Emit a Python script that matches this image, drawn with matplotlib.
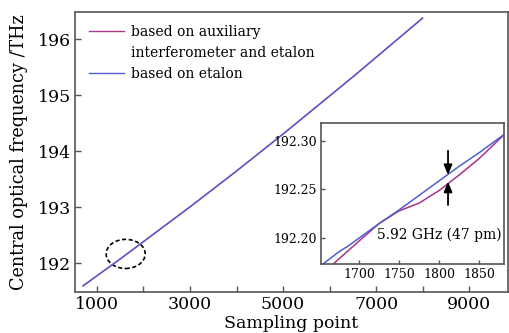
import matplotlib
matplotlib.use("Agg")
import matplotlib.pyplot as plt
from matplotlib.lines import Line2D
from matplotlib.patches import Ellipse
from matplotlib.ticker import MultipleLocator

# --- data ---
main_samples = [700, 1000, 1500, 2000, 2500, 3000, 3500, 4000,
                4500, 5000, 5500, 6000, 6500, 7000, 7500, 8000]
main_freq = [191.60, 191.78, 192.08, 192.39, 192.70, 193.01, 193.33, 193.65,
             193.98, 194.31, 194.65, 194.99, 195.33, 195.68, 196.03, 196.38]

# zoomed region
aux_samples = [1666, 1685, 1700, 1725, 1750, 1775, 1800, 1825, 1850, 1883]
aux_freq = [192.172, 192.186, 192.197, 192.215, 192.228, 192.236, 192.249, 192.265, 192.282, 192.308]
etalon_samples = [1653, 1675, 1685, 1700, 1725, 1750, 1775, 1800, 1825, 1850, 1883]
etalon_freq = [192.172, 192.186, 192.191, 192.200, 192.215, 192.229, 192.244, 192.259, 192.274, 192.288, 192.308]

x_ticks = [1000, 3000, 5000, 7000, 9000]
y_ticks = [192, 193, 194, 195, 196]
inset_x_ticks = [1700, 1750, 1800, 1850]
inset_y_ticks = [192.20, 192.25, 192.30]

gap_at = 1811
gap_top = 192.265
gap_bot = 192.258

C_AUX = "#a8338a"
C_ETA = "#4f5fd0"
SPINE = "#555555"

plt.rcParams['font.family'] = ['DejaVu Serif']
plt.rcParams['mathtext.fontset'] = 'dejavuserif'

fig = plt.figure(figsize=(5.09, 3.33), dpi=100)
ax = fig.add_axes([0.1473, 0.1231, 0.851, 0.841])

ax.plot(main_samples, main_freq, color=C_AUX, lw=1.0)
ax.plot(main_samples, main_freq, color=C_ETA, lw=1.0)

ax.add_patch(Ellipse((1617, 192.17), 839, 0.52, fill=False, ec='k', ls=(0, (2.5, 1.5)), lw=1.2))

ax.set_xlim(527, 9839)
ax.set_ylim(191.49, 196.49)
ax.set_xticks(x_ticks)
ax.xaxis.set_minor_locator(MultipleLocator(1000))
ax.set_yticks(y_ticks)
ax.tick_params(axis='both', which='both', direction='in', length=4, width=1, color=SPINE,
               labelsize=12.5, pad=3)
for s in ax.spines.values():
    s.set_color(SPINE)
    s.set_linewidth(1.2)

ax.set_xlabel("Sampling point", fontsize=12.5, labelpad=1)
ax.set_ylabel("Central optical frequency /THz", fontsize=12.7, labelpad=7)

handles = [Line2D([], [], color=C_AUX, lw=1.0),
           Line2D([], [], color='none'),
           Line2D([], [], color=C_ETA, lw=1.0)]
labels = ["based on auxiliary", "interferometer and etalon", "based on etalon"]
ax.legend(handles, labels, loc='upper left', bbox_to_anchor=(0.032, 0.955), frameon=False,
          fontsize=10, handlelength=2.5, handletextpad=0.55, labelspacing=0.52,
          borderpad=0, borderaxespad=0)

# inset
axi = fig.add_axes([0.6306, 0.2072, 0.3595, 0.4243])
axi.plot(aux_samples, aux_freq, color=C_AUX, lw=1.1)
axi.plot(etalon_samples, etalon_freq, color=C_ETA, lw=1.1)
axi.set_xlim(1652, 1881)
axi.set_ylim(192.173, 192.319)
axi.set_xticks(inset_x_ticks)
axi.set_yticks(inset_y_ticks)
axi.set_yticklabels([f"{v:.2f}" for v in inset_y_ticks])
axi.tick_params(axis='both', direction='in', length=3, width=1, color=SPINE, labelsize=9, pad=3)
for s in axi.spines.values():
    s.set_color(SPINE)
    s.set_linewidth(1.2)

arrow = dict(arrowstyle='-|>,head_length=0.6,head_width=0.25', color='k', lw=1.3,
             mutation_scale=10, shrinkA=0, shrinkB=0)
axi.annotate('', xy=(gap_at, gap_top), xytext=(gap_at, 192.290), arrowprops=arrow)
axi.annotate('', xy=(gap_at, gap_bot), xytext=(gap_at, 192.234), arrowprops=arrow)
axi.text(1722, 192.203, "5.92 GHz (47 pm)", fontsize=10, va='center', ha='left')

fig.savefig("out.png", dpi=100)
